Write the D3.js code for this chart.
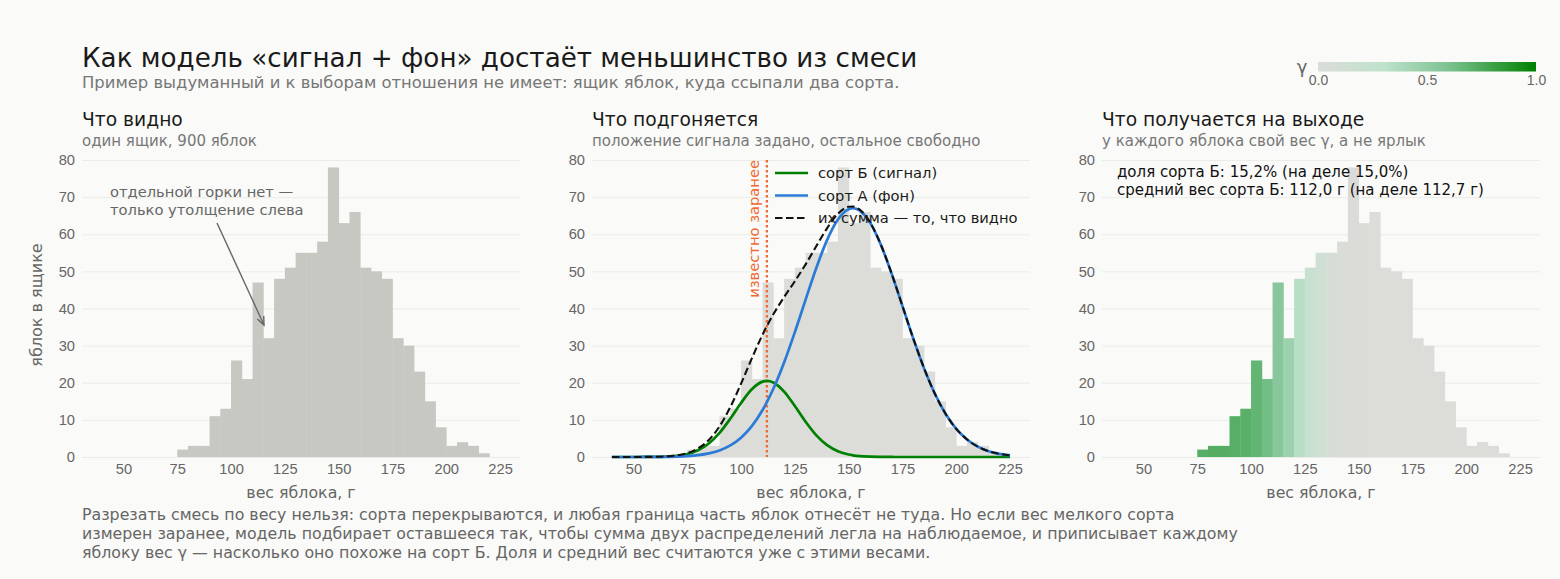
<!DOCTYPE html>
<html>
<head>
<meta charset="utf-8">
<script src="https://cdn.jsdelivr.net/npm/d3@7"></script>
<style>
  body { margin: 0; background: #fafaf8; }
  svg { display: block; font-family: "DejaVu Sans", sans-serif; }
</style>
</head>
<body>
<svg id="chart"></svg>
<script>
// DATA
const binLeft = [75, 80, 85, 90, 95, 100, 105, 110, 115, 120, 125, 130, 135, 140, 145,
	150, 155, 160, 165, 170, 175, 180, 185, 190, 195, 200, 205, 210, 215]
const binWidth = 5
const counts = [2, 3, 3, 11, 13, 26, 21, 47, 32, 48, 51, 55, 55, 58, 78,
	63, 66, 51, 50, 48, 32, 30, 23, 15, 8, 3, 4, 3, 1]
// gamma (похожесть на сорт Б) по корзинам
const gammaByBin = [0.72, 0.73, 0.73, 0.72, 0.71, 0.68, 0.63, 0.55, 0.45, 0.33, 0.22, 0.13, 0.07, 0.035, 0.015,
	0.006, 0, 0, 0, 0, 0, 0, 0, 0, 0, 0, 0, 0, 0]

const curveX = [40, 45, 50, 55, 60, 65, 70, 75, 80, 85, 90, 95, 100, 105, 110, 112, 115, 120, 125, 130,
	135, 140, 145, 150, 152, 155, 160, 165, 170, 175, 180, 185, 190, 195, 200, 205, 210, 215, 220, 225]
const signalCurve = [0, 0, 0, 0.01, 0.03, 0.11, 0.31, 0.79, 1.80, 3.62, 6.48, 10.31, 14.56, 18.25, 20.31, 20.5, 20.07, 17.61, 13.72, 9.49,
	5.83, 3.18, 1.54, 0.66, 0.46, 0.25, 0.09, 0.03, 0.01, 0, 0, 0, 0, 0, 0, 0, 0, 0, 0, 0]
const backgroundCurve = [0, 0, 0, 0.01, 0.02, 0.05, 0.12, 0.25, 0.50, 0.96, 1.77, 3.11, 5.20, 8.30, 12.65, 14.77, 18.37, 25.45, 33.63, 42.40,
	50.99, 58.48, 63.97, 66.75, 67.0, 66.43, 63.07, 57.11, 49.33, 40.64, 31.94, 23.94, 17.11, 11.67, 7.59, 4.71, 2.79, 1.57, 0.85, 0.44]
const totalCurve = [0, 0, 0, 0.02, 0.05, 0.16, 0.43, 1.04, 2.30, 4.58, 8.25, 13.42, 19.76, 26.55, 32.96, 35.27, 38.44, 43.06, 47.35, 51.89,
	56.82, 61.66, 65.51, 67.41, 67.46, 66.68, 63.16, 57.14, 49.34, 40.64, 31.94, 23.94, 17.11, 11.67, 7.59, 4.71, 2.79, 1.57, 0.85, 0.44]
const knownSignalWeight = 112

const xTicks = [50, 75, 100, 125, 150, 175, 200, 225]
const yTicks = [0, 10, 20, 30, 40, 50, 60, 70, 80]
const cbTicks = [0, 0.5, 1]

const legendLabels = ["сорт Б (сигнал)", "сорт А (фон)", "их сумма — то, что видно"]
const panelTitles = ["Что видно", "Что подгоняется", "Что получается на выходе"]
const panelSubtitles = ["один ящик, 900 яблок", "положение сигнала задано, остальное свободно",
	"у каждого яблока свой вес γ, а не ярлык"]
const footnote = [
	"Разрезать смесь по весу нельзя: сорта перекрываются, и любая граница часть яблок отнесёт не туда. Но если вес мелкого сорта",
	"измерен заранее, модель подбирает оставшееся так, чтобы сумма двух распределений легла на наблюдаемое, и приписывает каждому",
	"яблоку вес γ — насколько оно похоже на сорт Б. Доля и средний вес считаются уже с этими весами."
]

// LAYOUT
const width = 1560
const height = 579
const panelLeft = [82, 592, 1102]
const panelWidth = 438
const plotTop = 160
const plotBottom = 457

const svg = d3.select("#chart").attr("width", width).attr("height", height)

svg.append("rect")
	.attr("width", width)
	.attr("height", height)
	.attr("fill", "#fafaf8")

const y = d3.scaleLinear().domain([0, 80]).range([plotBottom, plotTop])

const cmap = d3.scaleLinear()
	.domain([0, 0.3, 0.6, 1])
	.range(["#dcdcd8", "#bfe2cc", "#7cc291", "#008000"])
	.interpolate(d3.interpolateRgb)

// title block
svg.append("text")
	.attr("x", 82).attr("y", 67)
	.attr("font-size", 26.2)
	.attr("fill", "#1a1a1a")
	.text("Как модель «сигнал + фон» достаёт меньшинство из смеси")

svg.append("text")
	.attr("x", 82).attr("y", 87.5)
	.attr("font-size", 16.4)
	.attr("fill", "#777")
	.text("Пример выдуманный и к выборам отношения не имеет: ящик яблок, куда ссыпали два сорта.")

function makePanel(i) {
	const left = panelLeft[i]
	const x = d3.scaleLinear().domain([30.75, 234.25]).range([0, panelWidth])
	const g = svg.append("g").attr("transform", "translate(" + left + ",0)")

	g.append("g")
		.attr("class", "y-axis")
		.call(d3.axisLeft(y).tickValues(yTicks).tickSize(-panelWidth).tickPadding(7))
		.call(a => a.select(".domain").remove())
		.call(a => a.selectAll("line").attr("stroke", "#ebebe8").attr("stroke-width", 1))
		.call(a => a.selectAll("text").attr("fill", "#666").attr("font-size", 14.7).attr("font-family", null))

	g.append("g")
		.attr("class", "x-axis")
		.attr("transform", "translate(0," + plotBottom + ")")
		.call(d3.axisBottom(x).tickValues(xTicks).tickSize(0).tickPadding(7))
		.call(a => a.select(".domain").remove())
		.call(a => a.selectAll("text").attr("fill", "#666").attr("font-size", 14.7).attr("font-family", null))

	g.append("text")
		.attr("x", panelWidth / 2).attr("y", 497.5)
		.attr("text-anchor", "middle")
		.attr("font-size", 15.8)
		.attr("fill", "#666")
		.text("вес яблока, г")

	g.append("text")
		.attr("x", 0).attr("y", 125.5)
		.attr("font-size", 18.7)
		.attr("fill", "#1a1a1a")
		.text(panelTitles[i])

	g.append("text")
		.attr("x", 0).attr("y", 146)
		.attr("font-size", 15)
		.attr("fill", "#777")
		.text(panelSubtitles[i])

	return {g: g, x: x}
}

function drawBars(p, fill) {
	p.g.append("g")
		.selectAll("rect")
		.data(counts)
		.join("rect")
			.attr("x", (d, i) => p.x(binLeft[i]))
			.attr("y", d => y(d))
			.attr("width", (d, i) => p.x(binLeft[i] + binWidth) - p.x(binLeft[i]) + 0.4)
			.attr("height", d => y(0) - y(d))
			.attr("fill", fill)
}

// PANEL 1
const p1 = makePanel(0)
drawBars(p1, "#c8c8c3")

p1.g.append("text")
	.attr("x", -40).attr("y", 305)
	.attr("transform", "rotate(-90,-40,305)")
	.attr("text-anchor", "middle")
	.attr("font-size", 16)
	.attr("fill", "#666")
	.text("яблок в ящике")

const note1 = p1.g.append("text")
	.attr("font-size", 14.7)
	.attr("fill", "#666")
note1.append("tspan").attr("x", 28).attr("y", 197).text("отдельной горки нет —")
note1.append("tspan").attr("x", 28).attr("y", 214.5).text("только утолщение слева")

// arrow to the bump
const ax0 = 135, ay0 = 223, ax1 = 182, ay1 = 325
const ang = Math.atan2(ay1 - ay0, ax1 - ax0)
p1.g.append("line")
	.attr("x1", ax0).attr("y1", ay0).attr("x2", ax1).attr("y2", ay1)
	.attr("stroke", "#666").attr("stroke-width", 1.4)
p1.g.append("path")
	.attr("d", "M" + (ax1 - 9 * Math.cos(ang - 0.4)) + "," + (ay1 - 9 * Math.sin(ang - 0.4)) +
		"L" + ax1 + "," + ay1 +
		"L" + (ax1 - 9 * Math.cos(ang + 0.4)) + "," + (ay1 - 9 * Math.sin(ang + 0.4)))
	.attr("fill", "none")
	.attr("stroke", "#666").attr("stroke-width", 1.4)

// PANEL 2
const p2 = makePanel(1)
drawBars(p2, "#dcdcd8")

const lineOf = values => d3.line()
	.x((d, i) => p2.x(curveX[i]))
	.y(d => y(d))
	.curve(d3.curveMonotoneX)(values)

p2.g.append("line")
	.attr("x1", p2.x(knownSignalWeight)).attr("x2", p2.x(knownSignalWeight))
	.attr("y1", plotTop).attr("y2", plotBottom)
	.attr("stroke", "#ee6a35").attr("stroke-width", 2.3)
	.attr("stroke-dasharray", "2.5,2.5")

p2.g.append("text")
	.attr("transform", "translate(" + (p2.x(knownSignalWeight) - 8) + "," + plotTop + ") rotate(-90)")
	.attr("text-anchor", "end")
	.attr("font-size", 14.7)
	.attr("fill", "#ee6a35")
	.text("известно заранее")

p2.g.append("path").attr("d", lineOf(signalCurve))
	.attr("fill", "none").attr("stroke", "#008000").attr("stroke-width", 2.7)
p2.g.append("path").attr("d", lineOf(backgroundCurve))
	.attr("fill", "none").attr("stroke", "#2b7bd6").attr("stroke-width", 2.7)
p2.g.append("path").attr("d", lineOf(totalCurve))
	.attr("fill", "none").attr("stroke", "#111").attr("stroke-width", 2.1)
	.attr("stroke-dasharray", "7.5,3.5")

const legendColors = ["#008000", "#2b7bd6", "#111"]
const legend = p2.g.append("g")
legend.selectAll("line")
	.data(legendLabels)
	.join("line")
		.attr("x1", 183).attr("x2", 216)
		.attr("y1", (d, i) => 173 + i * 22.5).attr("y2", (d, i) => 173 + i * 22.5)
		.attr("stroke", (d, i) => legendColors[i])
		.attr("stroke-width", (d, i) => i === 2 ? 2.1 : 2.7)
		.attr("stroke-dasharray", (d, i) => i === 2 ? "7.5,3.5" : null)
legend.selectAll("text")
	.data(legendLabels)
	.join("text")
		.attr("x", 226)
		.attr("y", (d, i) => 173 + i * 22.5)
		.attr("dy", "0.35em")
		.attr("font-size", 14.7)
		.attr("fill", "#1a1a1a")
		.text(d => d)

// PANEL 3
const p3 = makePanel(2)
p3.g.append("g")
	.selectAll("rect")
	.data(counts)
	.join("rect")
		.attr("x", (d, i) => p3.x(binLeft[i]))
		.attr("y", d => y(d))
		.attr("width", (d, i) => p3.x(binLeft[i] + binWidth) - p3.x(binLeft[i]) + 0.4)
		.attr("height", d => y(0) - y(d))
		.attr("fill", (d, i) => cmap(gammaByBin[i]))

const note3 = p3.g.append("text")
	.attr("font-size", 15)
	.attr("fill", "#111")
note3.append("tspan").attr("x", 15).attr("y", 177).text("доля сорта Б: 15,2% (на деле 15,0%)")
note3.append("tspan").attr("x", 15).attr("y", 195).text("средний вес сорта Б: 112,0 г (на деле 112,7 г)")

// COLORBAR
const cbX = d3.scaleLinear().domain([0, 1]).range([1318, 1536])
const grad = svg.append("defs").append("linearGradient").attr("id", "gammaGrad")
grad.selectAll("stop")
	.data(d3.range(0, 1.0001, 0.05))
	.join("stop")
		.attr("offset", d => d)
		.attr("stop-color", d => cmap(d))

svg.append("rect")
	.attr("x", cbX(0)).attr("y", 62)
	.attr("width", cbX(1) - cbX(0)).attr("height", 9.5)
	.attr("fill", "url(#gammaGrad)")

svg.append("g")
	.attr("transform", "translate(0,71.5)")
	.call(d3.axisBottom(cbX).tickValues(cbTicks).tickSize(0).tickPadding(4).tickFormat(d3.format(".1f")))
	.call(a => a.select(".domain").remove())
	.call(a => a.selectAll("text").attr("fill", "#666").attr("font-size", 14).attr("font-family", null))

svg.append("text")
	.attr("x", 1302).attr("y", 73)
	.attr("text-anchor", "middle")
	.attr("font-size", 18)
	.attr("fill", "#666")
	.text("γ")

// footnote
svg.append("g")
	.selectAll("text")
	.data(footnote)
	.join("text")
		.attr("x", 82)
		.attr("y", (d, i) => 520 + i * 19)
		.attr("font-size", 15.8)
		.attr("fill", "#666")
		.text(d => d)
</script>
</body>
</html>
